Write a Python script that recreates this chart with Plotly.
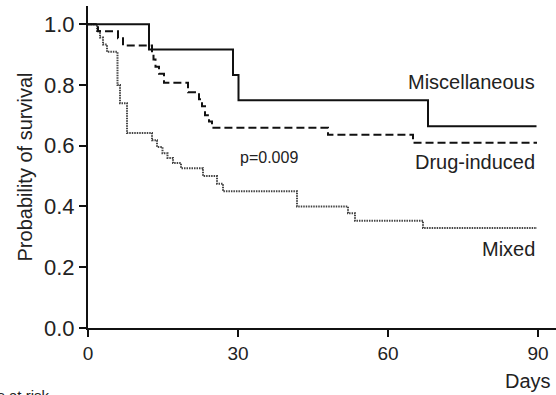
import plotly.graph_objects as go

# Kaplan-Meier style step data
misc_days = [0, 12.2, 29.0, 30.1, 68.0, 89.7]
misc_surv = [1.0, 0.917, 0.833, 0.75, 0.664, 0.664]

drug_days = [0, 2.0, 6.0, 7.0, 12.8, 13.1, 13.5, 14.2, 15.2, 20.0, 22.2, 22.8, 23.4, 24.2, 24.8, 48.0, 65.0, 89.8]
drug_surv = [1.0, 0.977, 0.954, 0.93, 0.907, 0.884, 0.86, 0.837, 0.807, 0.776, 0.753, 0.73, 0.70, 0.68, 0.659, 0.636, 0.61, 0.61]

mixed_days = [0, 1.8, 2.4, 3.0, 3.8, 5.9, 6.4, 7.8, 12.8, 13.8, 14.9, 15.9, 17.0, 18.6, 23.0, 25.8, 27.0, 41.8, 52.0, 53.4, 67.0, 89.8]
mixed_surv = [1.0, 0.978, 0.956, 0.933, 0.909, 0.80, 0.74, 0.642, 0.618, 0.596, 0.575, 0.56, 0.543, 0.526, 0.50, 0.475, 0.45, 0.40, 0.378, 0.353, 0.329, 0.329]

x_ticks = [0, 30, 60, 90]
y_ticks = [0.0, 0.2, 0.4, 0.6, 0.8, 1.0]
y_tick_labels = ["0.0", "0.2", "0.4", "0.6", "0.8", "1.0"]

FONT = "Liberation Sans, Arial, sans-serif"
TXT = "#222222"

fig = go.Figure()
fig.add_trace(go.Scatter(x=mixed_days, y=mixed_surv, mode="lines", line_shape="hv",
                         line=dict(color="#444444", width=2, dash="1.5px,1px"), name="Mixed"))
fig.add_trace(go.Scatter(x=drug_days, y=drug_surv, mode="lines", line_shape="hv",
                         line=dict(color="#111111", width=2, dash="8px,4px"), name="Drug-induced"))
fig.add_trace(go.Scatter(x=misc_days, y=misc_surv, mode="lines", line_shape="hv",
                         line=dict(color="#111111", width=2), name="Miscellaneous"))

ann = [
    dict(text="Miscellaneous", x=89.8, y=0.809, xref="x", yref="y", xanchor="right", yanchor="middle",
         font=dict(size=20)),
    dict(text="Drug-induced", x=89.8, y=0.546, xref="x", yref="y", xanchor="right", yanchor="middle",
         font=dict(size=20)),
    dict(text="Mixed", x=89.8, y=0.26, xref="x", yref="y", xanchor="right", yanchor="middle",
         font=dict(size=20)),
    dict(text="p=0.009", x=36.2, y=0.5625, xref="x", yref="y", xanchor="center", yanchor="middle",
         font=dict(size=16)),
    dict(text="Days", x=(553 - 88) / 468, y=(328 - 381) / 322.2, xref="paper", yref="paper",
         xanchor="right", yanchor="middle", font=dict(size=20)),
    dict(text="Numbers at risk", x=(52 - 88) / 468, y=(328 - 385) / 322.2, xref="paper", yref="paper",
         xanchor="right", yanchor="top", font=dict(size=15)),
]
for a in ann:
    a["showarrow"] = False
    a["font"]["family"] = FONT
    a["font"]["color"] = TXT

fig.update_layout(
    width=556, height=395,
    margin=dict(l=88, r=0, t=6, b=67, autoexpand=False),
    paper_bgcolor="white", plot_bgcolor="white",
    showlegend=False,
    annotations=ann,
    font=dict(family=FONT, color=TXT),
)
fig.update_xaxes(range=[0, 93.6], tickvals=x_ticks, ticks="outside", ticklen=7, tickwidth=2,
                 tickcolor="#111", showline=True, linecolor="#111", linewidth=2, automargin=False,
                 showgrid=False, zeroline=False, tickfont=dict(size=19, family=FONT, color=TXT))
fig.update_yaxes(range=[0, 1.06], tickvals=y_ticks, ticktext=y_tick_labels, ticks="outside", ticklen=7,
                 tickwidth=2, tickcolor="#111", showline=True, linecolor="#111", linewidth=2,
                 automargin=False,
                 showgrid=False, zeroline=False, tickfont=dict(size=22, family=FONT, color=TXT),
                 title=dict(text="Probability of survival", font=dict(size=20, family=FONT, color=TXT),
                            standoff=6))

fig.write_html("out.html", config={"displayModeBar": False},
               post_script="document.body.style.margin='0';document.body.style.overflow='hidden';")
